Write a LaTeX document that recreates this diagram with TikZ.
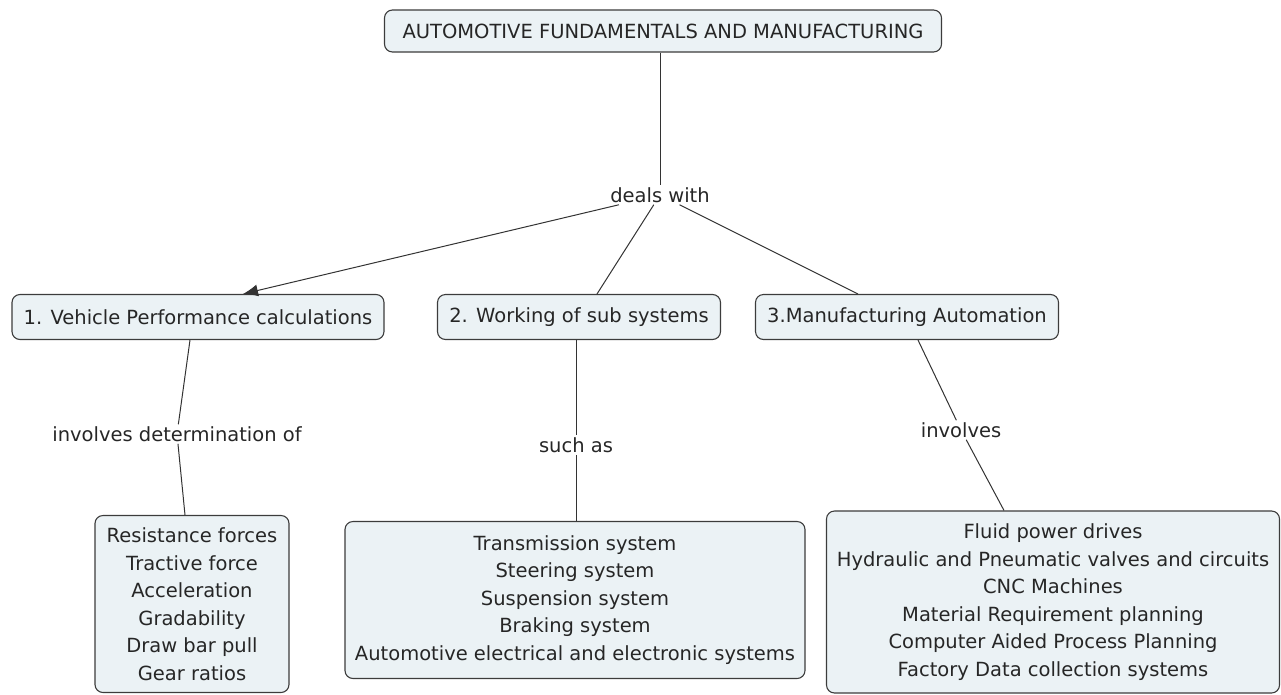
\documentclass[tikz,border=0pt]{standalone}
\usepackage{fontspec}
\setmainfont{DejaVu Sans}
\usetikzlibrary{arrows.meta,positioning}
\definecolor{boxfill}{HTML}{EBF2F5}
\definecolor{boxline}{HTML}{3C3C3C}

\begin{document}
\begin{tikzpicture}[
    x=1pt, y=-1pt,
    concept/.style={rectangle, rounded corners=8pt, draw=boxline, fill=boxfill, line width=1.1pt, align=center, inner sep=0pt, text=black!85, font=\fontsize{19.5}{27.5}\selectfont},
    link/.style={inner sep=2pt, text=black!85, font=\fontsize{19.5}{27.5}\selectfont},
    line/.style={draw=black!80, line width=1pt},
    arrow/.style={line, -{Latex[length=15pt, width=12pt]}},
]
    \useasboundingbox (0,0) rectangle (1281,694);
    \node[concept, minimum width=557pt, minimum height=42pt] (top) at (663,31) {AUTOMOTIVE FUNDAMENTALS AND MANUFACTURING};
    \node[link] (dw) at (660,195) {deals with};
    \node[concept, minimum width=372pt, minimum height=45pt] (b1) at (198,317) {1. Vehicle Performance calculations};
    \node[concept, minimum width=283pt, minimum height=45pt] (b2) at (579,317) {2. Working of sub systems};
    \node[concept, minimum width=303pt, minimum height=45pt] (b3) at (907,317) {3.Manufacturing Automation};
    \node[link] (l1) at (177,434) {involves determination of};
    \node[link] (l2) at (576,445) {such as};
    \node[link] (l3) at (961,430) {involves};
    \node[concept, minimum width=194pt, minimum height=177pt] (c1) at (192,604) {Resistance forces\\Tractive force\\Acceleration\\Gradability\\Draw bar pull\\Gear ratios};
    \node[concept, minimum width=460pt, minimum height=157pt] (c2) at (575,600) {Transmission system\\Steering system\\Suspension system\\Braking system\\Automotive electrical and electronic systems};
    \node[concept, minimum width=453pt, minimum height=182pt] (c3) at (1053,602) {Fluid power drives\\Hydraulic and Pneumatic valves and circuits\\CNC Machines\\Material Requirement planning\\Computer Aided Process Planning\\Factory Data collection systems};

    \draw[line] ([xshift=-3pt]top.south) -- (dw);
    \draw[arrow] (dw) -- ([xshift=45pt]b1.north);
    \draw[line] (dw) -- ([xshift=18pt]b2.north);
    \draw[line] (dw) -- ([xshift=-49pt]b3.north);
    \draw[line] ([xshift=-8pt]b1.south) -- (l1);
    \draw[line] (l1) -- ([xshift=-7pt]c1.north);
    \draw[line] ([xshift=-3pt]b2.south) -- (l2);
    \draw[line] (l2) -- ([xshift=1pt]c2.north);
    \draw[line] ([xshift=11pt]b3.south) -- (l3);
    \draw[line] (l3) -- ([xshift=-49pt]c3.north);
\end{tikzpicture}
\end{document}
